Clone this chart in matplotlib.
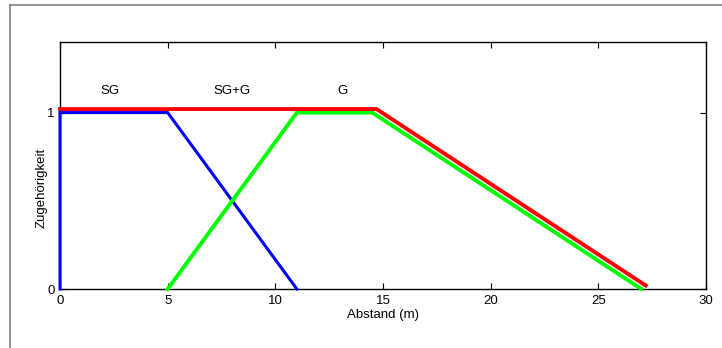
import matplotlib
matplotlib.use("Agg")
import matplotlib.pyplot as plt
from matplotlib.lines import Line2D

plt.rcParams['font.family'] = ['Liberation Sans', 'DejaVu Sans']

# Data
sg_x = [0, 0, 5, 11]
sg_y = [0, 1, 1, 0]
g_x = [5, 11, 14.5, 27]
g_y = [0, 1, 1, 0]
max_x = [0, 14.7, 27.2]
max_y = [1.02, 1.02, 0.02]
label_texts = ["SG", "SG+G", "G"]
label_x = [2.3, 8.0, 13.1]
label_y = [1.12, 1.12, 1.12]
xticks = [0, 5, 10, 15, 20, 25, 30]
yticks = [0, 1]

fig = plt.figure(figsize=(7.22, 3.48), dpi=100)
ax = fig.add_axes([0.0831, 0.1695, 0.8947, 0.7098])

ax.plot(sg_x, sg_y, color='#0000ff', lw=2.2, solid_joinstyle='miter', zorder=3, clip_on=False)
ax.plot(g_x, g_y, color='#00ff00', lw=2.8, solid_joinstyle='miter', zorder=3, clip_on=False)
ax.plot(max_x, max_y, color='#ff0000', lw=2.8, solid_joinstyle='miter', zorder=3, clip_on=False)

for t, x, y in zip(label_texts, label_x, label_y):
    ax.text(x, y, t, ha='center', va='center', fontsize=9.5)

ax.set_xlim(0, 30)
ax.set_ylim(0, 1.4)
ax.set_xticks(xticks)
ax.set_yticks(yticks)
ax.tick_params(direction='in', top=True, right=True, labelsize=9.5, length=4, width=0.8)
ax.tick_params(axis='x', pad=4)
ax.tick_params(axis='y', pad=4)
for s in ax.spines.values():
    s.set_linewidth(1.0)
    s.set_zorder(2)
ax.set_xlabel('Abstand (m)', fontsize=9.5, labelpad=2)
ax.set_ylabel('Zugehörigkeit', fontsize=9.5, va='center')
ax.yaxis.set_label_coords(-0.028, 0.409)

# partial figure frame (top and left)
fig.add_artist(Line2D([10/722, 1.0], [1 - 5/348, 1 - 5/348], transform=fig.transFigure, color='#808080', lw=1.2))
fig.add_artist(Line2D([10/722, 10/722], [0, 1 - 5/348], transform=fig.transFigure, color='#808080', lw=1.2))

fig.savefig('out.png', dpi=100)
